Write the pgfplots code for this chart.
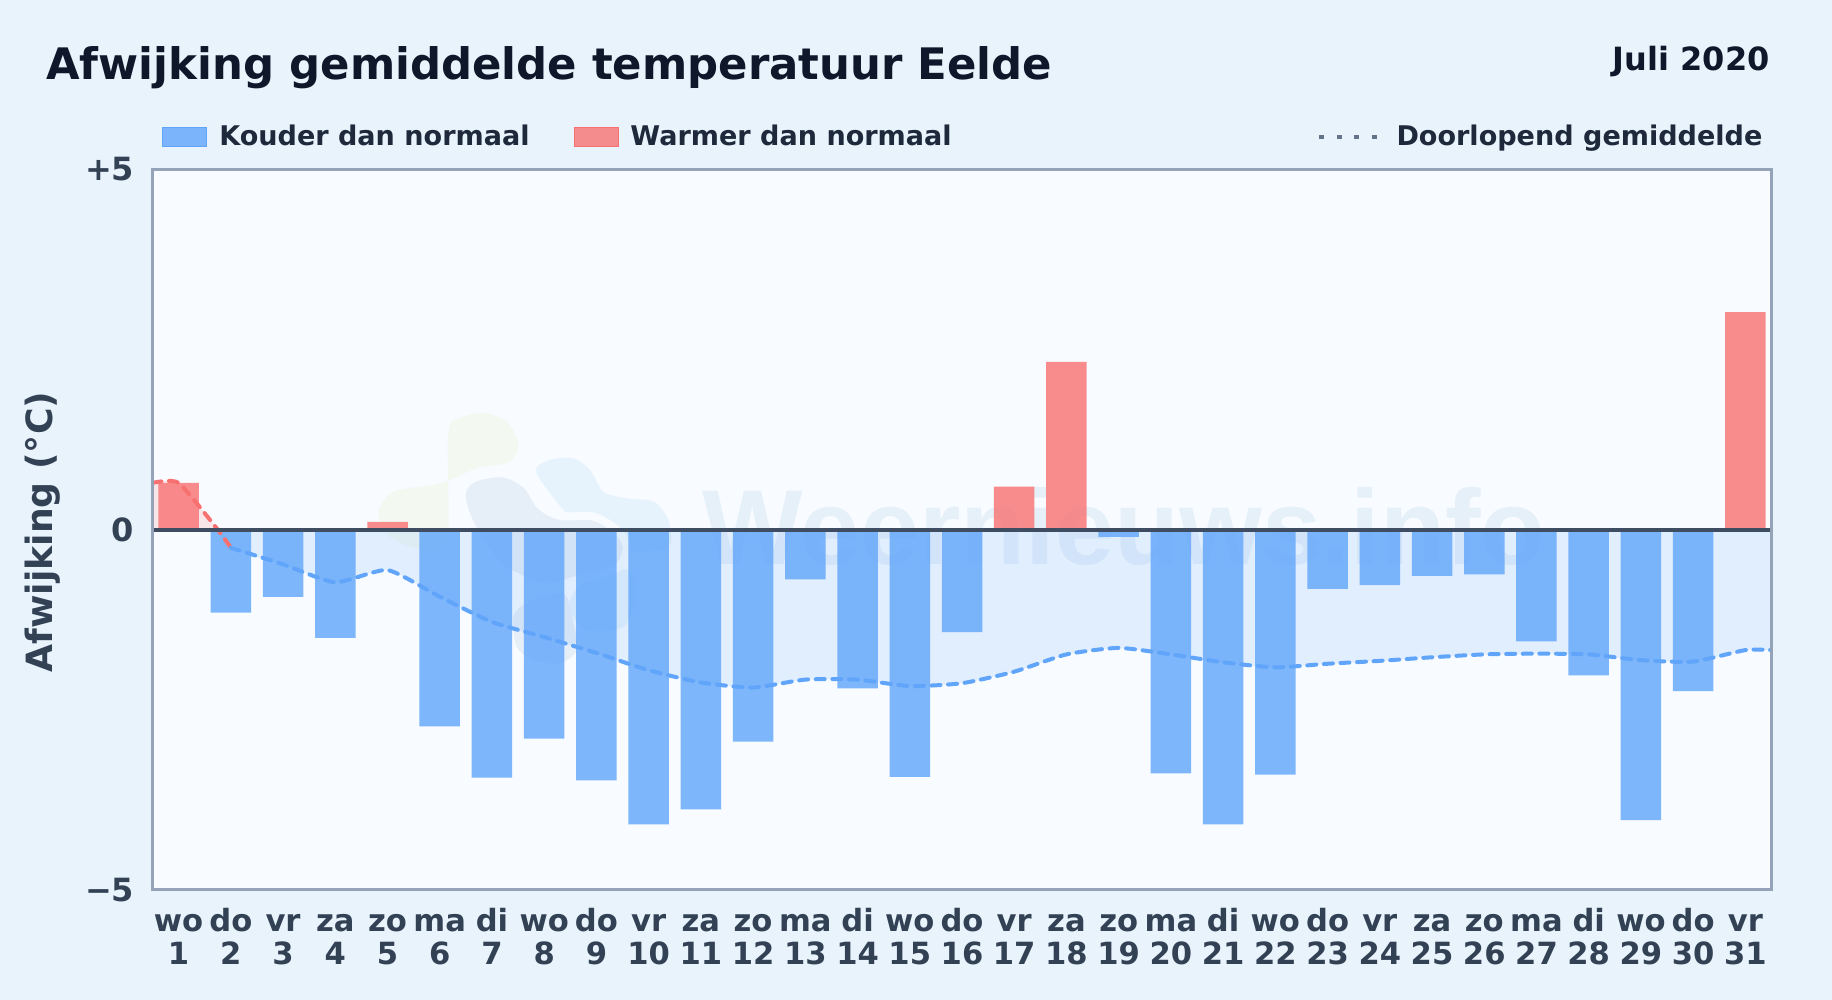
\documentclass[border=0pt]{standalone}
\usepackage{fontspec}
\usepackage{pgfplots}
\usepackage{pgfplotstable}
\pgfplotsset{compat=1.18}
\setmainfont{DejaVu Sans}
\newfontfamily\wmfont{Liberation Sans}

\definecolor{pagebg}{HTML}{E8F3FC}
\definecolor{plotbg}{HTML}{F8FBFF}
\definecolor{frame}{HTML}{94A3B8}
\definecolor{ink}{HTML}{0F172A}
\definecolor{legendink}{HTML}{1E293B}
\definecolor{tickink}{HTML}{334155}
\definecolor{zeroline}{HTML}{3F4D63}
\definecolor{coldbar}{HTML}{60A5FA}
\definecolor{warmbar}{HTML}{F87171}
\definecolor{dots}{HTML}{64748B}

\pgfplotstableread{
day dev
2 -1.15
3 -0.93
4 -1.50
6 -2.73
7 -3.44
8 -2.90
9 -3.48
10 -4.09
11 -3.88
12 -2.94
13 -0.69
14 -2.20
15 -3.43
16 -1.42
19 -0.10
20 -3.38
21 -4.09
22 -3.40
23 -0.82
24 -0.77
25 -0.64
26 -0.62
27 -1.55
28 -2.02
29 -4.03
30 -2.24
}\coldtable

\pgfplotstableread{
day dev
1 0.65
5 0.11
17 0.60
18 2.33
31 3.02
}\warmtable

% doorlopend gemiddelde, with the zero crossing as row 2
\pgfplotstableread{
day avg
0.5 0.65
1 0.65
1.75 0
2 -0.25
3 -0.48
4 -0.73
5 -0.56
6 -0.93
7 -1.28
8 -1.49
9 -1.71
10 -1.95
11 -2.12
12 -2.19
13 -2.08
14 -2.08
15 -2.17
16 -2.13
17 -1.97
18 -1.73
19 -1.64
20 -1.73
21 -1.84
22 -1.91
23 -1.86
24 -1.82
25 -1.77
26 -1.73
27 -1.72
28 -1.73
29 -1.81
30 -1.83
31 -1.67
31.5 -1.67
}\avgtable

\begin{document}
\begin{tikzpicture}
\fill[pagebg] (0pt,0pt) rectangle (916pt,500pt);
\fill[plotbg] (76.25pt,55pt) rectangle (885.75pt,415.25pt);

% watermark, under the bars
\begin{scope}[shift={(180pt,305pt)},x=0.16667pt,y=-0.16667pt]
  \fill[color={rgb,255:red,243;green,249;blue,241}] plot[smooth cycle] coordinates {(265,130) (300,85) (370,68) (440,95) (475,160) (450,215) (350,235) (270,270) (220,285) (100,305) (55,370) (90,440) (170,475) (260,470)};
  \fill[color={rgb,255:red,230;green,243;blue,253}] plot[smooth cycle] coordinates {(530,250) (570,210) (640,205) (690,240) (730,305) (800,325) (880,335) (925,390) (925,470) (800,480) (650,400)};
  \fill[color={rgb,255:red,230;green,243;blue,253}] plot[smooth cycle] coordinates {(640,610) (700,560) (810,540) (830,620) (790,710) (680,720) (630,660)};
  \filldraw[draw=plotbg,line width=4pt,fill={rgb,255:red,230;green,238;blue,248}] plot[smooth cycle] coordinates {(305,310) (340,265) (430,250) (500,285) (540,345) (600,378) (700,380) (770,420) (800,470) (770,535) (650,570) (550,590) (420,530) (330,400)};
  \fill[color={rgb,255:red,230;green,238;blue,248}] plot[smooth cycle] coordinates {(460,680) (500,640) (610,610) (640,700) (650,780) (600,820) (520,810) (470,770)};
\end{scope}
\node[anchor=base west,inner sep=0pt,text={rgb,255:red,230;green,240;blue,249}] at (351pt,217.5pt) {\wmfont\fontsize{53.2}{60}\selectfont\bfseries Weernieuws.info};

\begin{axis}[
    at={(76.25pt,55pt)},
    anchor=south west,
    scale only axis,
    width=809.5pt,
    height=360.25pt,
    xmin=0.5, xmax=31.5,
    ymin=-5, ymax=5,
    axis on top,
    axis line style={frame,line width=1.5pt},
    major tick length=0pt,
    xtick={1,2,...,31},
    xticklabels={{\strut wo\\1},{\strut do\\2},{\strut vr\\3},{\strut za\\4},{\strut zo\\5},{\strut ma\\6},{\strut di\\7},{\strut wo\\8},{\strut do\\9},{\strut vr\\10},{\strut za\\11},{\strut zo\\12},{\strut ma\\13},{\strut di\\14},{\strut wo\\15},{\strut do\\16},{\strut vr\\17},{\strut za\\18},{\strut zo\\19},{\strut ma\\20},{\strut di\\21},{\strut wo\\22},{\strut do\\23},{\strut vr\\24},{\strut za\\25},{\strut zo\\26},{\strut ma\\27},{\strut di\\28},{\strut wo\\29},{\strut do\\30},{\strut vr\\31}},
    xticklabel style={align=center,text=tickink,font=\fontsize{15.3}{16.5}\selectfont\bfseries},
    ytick={-5,0,5},
    yticklabels={−5,0,+5},
    yticklabel style={text=tickink,font=\fontsize{16}{17}\selectfont\bfseries},
    tick label style={inner sep=0pt},
    x tick label style={yshift=-8.8pt},
    y tick label style={xshift=-9pt},
    ylabel={Afwijking (°C)},
    every axis y label/.style={at={(axis description cs:-0.068,0.4967)},rotate=90,anchor=center,text=tickink,font=\fontsize{18.1}{20}\selectfont\bfseries},
    legend columns=3,
    legend cell align=left,
    legend style={
        at={(axis description cs:0.0059,1.0)},anchor=south west,yshift=10.2pt,
        draw=none,fill=none,inner sep=0pt,
        font=\fontsize{13.53}{15}\selectfont\bfseries,
        text=legendink,
        nodes={inner sep=0pt},
        /tikz/column 1/.style={column sep=6pt},
        /tikz/column 2/.style={column sep=22pt},
        /tikz/column 3/.style={column sep=6pt},
        /tikz/column 4/.style={column sep=182.5pt},
        /tikz/column 5/.style={column sep=8.5pt},
    },
]
% pale areas between the average and zero
\addplot[smooth,tension=0.35,draw=none,fill=warmbar,fill opacity=0.15,forget plot,skip coords between index={3}{99}] table[x=day,y=avg] {\avgtable} \closedcycle;
\addplot[smooth,tension=0.35,draw=none,fill=coldbar,fill opacity=0.15,forget plot,skip coords between index={0}{2}] table[x=day,y=avg] {\avgtable} \closedcycle;

% bars
\addplot[ybar,bar shift=0pt,bar width=20.25pt,draw=none,fill=coldbar,fill opacity=0.8,forget plot] table[x=day,y=dev] {\coldtable};
\addplot[ybar,bar shift=0pt,bar width=20.25pt,draw=none,fill=warmbar,fill opacity=0.8,forget plot] table[x=day,y=dev] {\warmtable};

% running mean
\addplot[smooth,tension=0.35,warmbar,line width=2pt,line cap=round,dash pattern=on 4.5pt off 3.8pt,forget plot,skip coords between index={4}{99}] table[x=day,y=avg] {\avgtable};
\addplot[smooth,tension=0.35,coldbar,line width=2pt,line cap=round,dash pattern=on 4.5pt off 3.8pt,forget plot,skip coords between index={0}{3}] table[x=day,y=avg] {\avgtable};

% zero line
\addplot[zeroline,line width=2pt,forget plot] coordinates {(0.5,0) (31.5,0)};

\addlegendimage{legend image code/.code={\fill[coldbar,fill opacity=0.8] (0pt,-4.75pt) rectangle (22pt,4.75pt);}}
\addlegendentry{Kouder dan normaal}
\addlegendimage{legend image code/.code={\fill[warmbar,fill opacity=0.8] (0pt,-4.75pt) rectangle (22pt,4.75pt);}}
\addlegendentry{Warmer dan normaal}
\addlegendimage{legend image code/.code={\draw[dots,line width=2.4pt,dash pattern=on 2.5pt off 6.3pt] (0pt,0pt) -- (29pt,0pt);}}
\addlegendentry{Doorlopend gemiddelde}
\end{axis}

\node[anchor=base west,inner sep=0pt,text=ink] at (23pt,460.25pt) {\fontsize{21.7}{24}\selectfont\bfseries Afwijking gemiddelde temperatuur Eelde};
\node[anchor=base east,inner sep=0pt,text=ink] at (885pt,464.5pt) {\fontsize{16}{18}\selectfont\bfseries Juli 2020};
\end{tikzpicture}
\end{document}
